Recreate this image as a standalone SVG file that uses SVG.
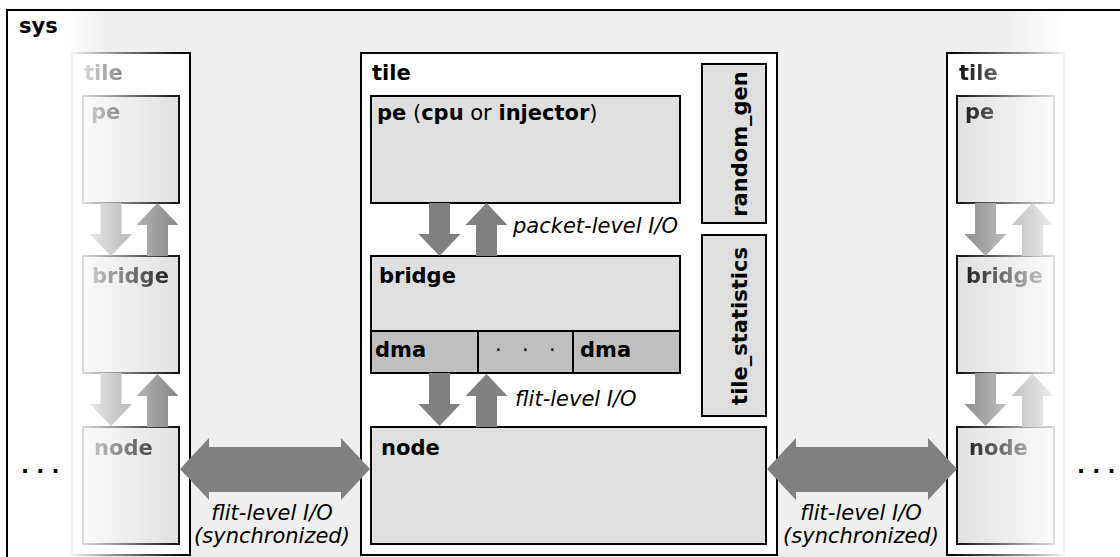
<svg xmlns="http://www.w3.org/2000/svg" width="1120" height="557" viewBox="0 0 1120 557">
  <style>
    text { font-family: "DejaVu Sans", "Liberation Sans", sans-serif; font-size: 21px; fill: #000; }
    .b { font-weight: bold; }
    .i { font-style: italic; }
    .tile { fill: #fff; stroke: #000; stroke-width: 2; }
    .box { fill: #dfdfdf; stroke: #000; stroke-width: 2; }
    .dma { fill: #bfbfbf; stroke: #000; stroke-width: 2; }
    .arrow { fill: #808080; }
  </style>
  <defs>
    <!-- background of the system area: white at the edges, light grey in the middle -->
    <linearGradient id="sysFill" gradientUnits="userSpaceOnUse" x1="0" y1="0" x2="1120" y2="0">
      <stop offset="0.06" stop-color="#ffffff"/>
      <stop offset="0.095" stop-color="#efefef"/>
      <stop offset="0.9" stop-color="#efefef"/>
      <stop offset="0.95" stop-color="#ffffff"/>
    </linearGradient>
    <!-- fade-out for the neighbouring tiles -->
    <linearGradient id="fadeLeft" gradientUnits="userSpaceOnUse" x1="72" y1="0" x2="185" y2="0">
      <stop offset="0" stop-color="#0e0e0e"/>
      <stop offset="1" stop-color="#ffffff"/>
    </linearGradient>
    <linearGradient id="fadeRight" gradientUnits="userSpaceOnUse" x1="950" y1="0" x2="1066" y2="0">
      <stop offset="0" stop-color="#ffffff"/>
      <stop offset="1" stop-color="#0a0a0a"/>
    </linearGradient>
    <mask id="maskLeft" maskUnits="userSpaceOnUse" x="60" y="40" width="140" height="520">
      <rect x="60" y="40" width="140" height="520" fill="url(#fadeLeft)"/>
    </mask>
    <mask id="maskRight" maskUnits="userSpaceOnUse" x="935" y="40" width="140" height="520">
      <rect x="935" y="40" width="140" height="520" fill="url(#fadeRight)"/>
    </mask>
    <!-- vertical block arrows, drawn from y=0 (top) to y=53 -->
    <path id="arrowDown" d="M-10.5,0 H10.5 V31 H21 L0,53 L-21,31 H-10.5 Z"/>
    <path id="arrowUp" d="M-10.5,53 H10.5 V22 H21 L0,0 L-21,22 H-10.5 Z"/>
  </defs>

  <!-- system -->
  <g id="sys">
    <rect x="7" y="10" width="1130" height="560" fill="url(#sysFill)" stroke="#000" stroke-width="2"/>
    <text class="b" x="19" y="33">sys</text>
    <text class="b" x="21" y="473">. . .</text>
    <text class="b" x="1077" y="473">. . .</text>
  </g>

  <!-- neighbouring tile, left -->
  <g id="tile-left">
    <rect x="72" y="53" width="118" height="502" fill="#fff"/>
    <g mask="url(#maskLeft)">
      <rect class="tile" x="72" y="53" width="118" height="502"/>
      <text class="b" x="84" y="80">tile</text>
      <g id="tile-left-pe">
        <rect class="box" x="83" y="96" width="96" height="107"/>
        <text class="b" x="91" y="119">pe</text>
      </g>
      <g id="tile-left-bridge">
        <rect class="box" x="83" y="256" width="96" height="117"/>
        <text class="b" x="92" y="283">bridge</text>
      </g>
      <g id="tile-left-node">
        <rect class="box" x="83" y="427" width="96" height="117"/>
        <text class="b" x="94" y="455">node</text>
      </g>
      <g id="tile-left-links" class="arrow">
        <use href="#arrowDown" x="111" y="203"/>
        <use href="#arrowUp" x="157.5" y="203"/>
        <use href="#arrowDown" x="111" y="373"/>
        <use href="#arrowUp" x="157.5" y="374"/>
      </g>
    </g>
  </g>

  <!-- neighbouring tile, right -->
  <g id="tile-right">
    <rect x="947" y="53" width="117" height="502" fill="#fff"/>
    <g mask="url(#maskRight)">
      <rect class="tile" x="947" y="53" width="117" height="502"/>
      <text class="b" x="959" y="80">tile</text>
      <g id="tile-right-pe">
        <rect class="box" x="957" y="96" width="97" height="107"/>
        <text class="b" x="965" y="119">pe</text>
      </g>
      <g id="tile-right-bridge">
        <rect class="box" x="957" y="256" width="97" height="117"/>
        <text class="b" x="966" y="283">bridge</text>
      </g>
      <g id="tile-right-node">
        <rect class="box" x="957" y="427" width="97" height="117"/>
        <text class="b" x="969" y="455">node</text>
      </g>
      <g id="tile-right-links" class="arrow">
        <use href="#arrowDown" x="985.5" y="203"/>
        <use href="#arrowUp" x="1032.5" y="203"/>
        <use href="#arrowDown" x="985.5" y="373"/>
        <use href="#arrowUp" x="1032.5" y="374"/>
      </g>
    </g>
  </g>

  <!-- the tile in focus -->
  <g id="tile">
    <rect class="tile" x="361" y="53" width="416" height="502"/>
    <text class="b" x="372" y="80">tile</text>
  </g>
  <g id="pe">
    <rect class="box" x="371" y="96" width="309" height="107"/>
    <text x="377" y="120"><tspan class="b">pe</tspan> (<tspan class="b">cpu</tspan> or <tspan class="b">injector</tspan>)</text>
  </g>
  <g id="bridge">
    <rect class="box" x="371" y="256" width="309" height="117"/>
    <text class="b" x="379" y="283">bridge</text>
  </g>
  <g id="dma">
    <rect class="dma" x="371" y="331" width="309" height="42"/>
    <line x1="478" y1="331" x2="478" y2="373" stroke="#000" stroke-width="2"/>
    <line x1="573" y1="331" x2="573" y2="373" stroke="#000" stroke-width="2"/>
    <text class="b" x="375" y="357">dma</text>
    <text x="495 522 549" y="357">···</text>
    <text class="b" x="580" y="357">dma</text>
  </g>
  <g id="node">
    <rect class="box" x="371" y="427" width="395" height="117"/>
    <text class="b" x="381" y="455">node</text>
  </g>
  <g id="random_gen">
    <rect class="box" x="702" y="64" width="64" height="159"/>
    <text class="b" text-anchor="middle" transform="translate(747,144) rotate(-90)">random_gen</text>
  </g>
  <g id="tile_statistics">
    <rect class="box" x="702" y="235" width="64" height="181"/>
    <text class="b" text-anchor="middle" transform="translate(747,326) rotate(-90)">tile_statistics</text>
  </g>

  <!-- links -->
  <g id="connectors">
    <g class="arrow">
      <use href="#arrowDown" x="439.5" y="203"/>
      <use href="#arrowUp" x="486.5" y="203"/>
      <use href="#arrowDown" x="439.5" y="373"/>
      <use href="#arrowUp" x="486.5" y="374"/>
      <path d="M180,469 L209,438 V447 H341 V438 L370,469 L341,500 V492 H209 V500 Z"/>
      <path d="M767,469 L796,438 V447 H928 V438 L957,469 L928,500 V492 H796 V500 Z"/>
    </g>
    <text class="i" x="513" y="233">packet-level I/O</text>
    <text class="i" x="515" y="406">flit-level I/O</text>
    <text class="i" text-anchor="middle"><tspan x="272" y="520">flit-level I/O</tspan><tspan x="272" y="543">(synchronized)</tspan></text>
    <text class="i" text-anchor="middle"><tspan x="861" y="520">flit-level I/O</tspan><tspan x="861" y="543">(synchronized)</tspan></text>
  </g>
</svg>
